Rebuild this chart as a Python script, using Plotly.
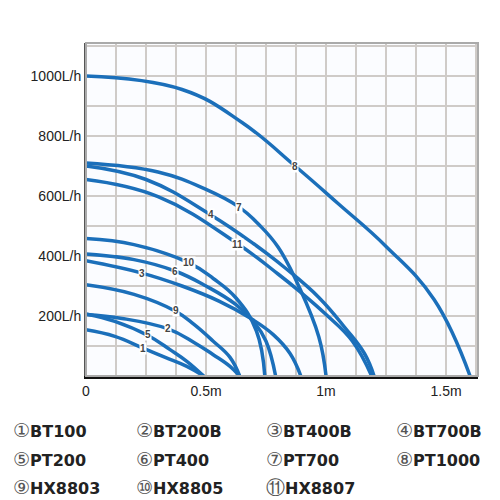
import plotly.graph_objects as go

names = ["BT100","BT200B","BT400B","BT700B","PT200","PT400","PT700","PT1000","HX8803","HX8805","HX8807"]
circ = ["①","②","③","④","⑤","⑥","⑦","⑧","⑨","⑩","⑪"]
# head (m) and flow (L/h) points per curve
h1=[0,0.12,0.2375,0.33,0.42,0.49]; q1=[154,132,93,62,32,0]
h2=[0,0.15,0.342,0.45,0.53,0.6,0.64]; q2=[205,192,157,112,71,32,0]
h3=[0,0.233,0.4,0.556,0.68,0.78,0.85,0.895]; q3=[384,343,300,249,195,138,75,0]
h4=[0,0.25,0.52,0.7,0.83,0.97,1.08,1.16,1.2]; q4=[700,655,537,440,360,262,160,75,0]
h5=[0,0.12,0.258,0.35,0.42,0.49]; q5=[207,182,135,88,49,0]
h6=[0,0.2,0.371,0.5,0.625,0.7,0.75,0.79]; q6=[407,388,350,300,238,180,116,0]
h7=[0,0.3,0.5,0.638,0.72,0.8,0.89,0.97,1.0]; q7=[710,680,622,563,505,430,293,130,0]
h8=[0,0.4,0.65,0.871,1.05,1.25,1.45,1.6]; q8=[1000,955,845,700,575,432,255,0]
h9=[0,0.2,0.375,0.45,0.53,0.6,0.64]; q9=[304,272,215,172,116,62,0]
h10=[0,0.2,0.429,0.53,0.625,0.71,0.745]; q10=[458,438,377,325,260,150,0]
h11=[0,0.3,0.633,0.8,0.89,1.0,1.11,1.19]; q11=[655,598,440,340,282,205,116,0]
H=[h1,h2,h3,h4,h5,h6,h7,h8,h9,h10,h11]
Q=[q1,q2,q3,q4,q5,q6,q7,q8,q9,q10,q11]
lab_h=[0.2375,0.342,0.233,0.52,0.258,0.371,0.638,0.871,0.375,0.429,0.633]
lab_q=[93,157,343,537,137,350,563,700,217,377,440]

blue="#1b6fba"
fig=go.Figure()
for i in range(11):
    fig.add_trace(go.Scatter(x=H[i],y=Q[i],mode="lines",line=dict(color=blue,width=3.5,shape="spline",smoothing=1.2),
                             name=names[i],showlegend=False,hoverinfo="skip"))
for i in range(11):
    fig.add_annotation(x=lab_h[i],y=lab_q[i],text=f"<b>{i+1}</b>",showarrow=False,bgcolor="white",
                       font=dict(family="Liberation Sans",size=10,color="#444"),borderpad=0)

xt=[i*0.125 for i in range(14)]
xtt=["0" if v==0 else ("0.5m" if v==0.5 else ("1m" if v==1 else ("1.5m" if v==1.5 else ""))) for v in xt]
yt=[i*100 for i in range(12)]
ytt=[f"{v}L/h" if v in (200,400,600,800,1000) else "" for v in yt]

fig.update_xaxes(range=[0,1.633],tickvals=xt,ticktext=xtt,showgrid=True,gridcolor="#cfcbc8",gridwidth=1.5,
                 zeroline=False,showline=True,linecolor="#111",linewidth=3,ticks="",automargin=False,
                 tickfont=dict(family="Liberation Sans",size=14,color="#222"))
fig.update_yaxes(range=[0,1110],tickvals=yt,ticktext=ytt,showgrid=True,gridcolor="#cfcbc8",gridwidth=1.5,
                 zeroline=False,showline=True,linecolor="#555",linewidth=2,ticks="",automargin=False,
                 tickfont=dict(family="Liberation Sans",size=14,color="#222"))
fig.add_shape(type="rect",xref="paper",yref="paper",x0=0,y0=0,x1=1,y1=1,line=dict(color="#aaa",width=2))

cols=[3,126,256,386]; rows=[422,451,479]
for i in range(11):
    px=cols[i%4]; py=rows[i//4]
    fig.add_annotation(xref="paper",yref="paper",x=(px-78)/392,y=(368-py)/333,xanchor="left",yanchor="middle",
                       text=f"<span style='font-size:19px;color:#555'>{circ[i]}</span><b>{names[i]}</b>",showarrow=False,
                       font=dict(family="DejaVu Sans",size=16,color="#222"))

fig.update_layout(width=500,height=500,margin=dict(l=78,r=30,t=35,b=132),plot_bgcolor="#fbfcff",paper_bgcolor="white")
fig.write_html("out.html")
